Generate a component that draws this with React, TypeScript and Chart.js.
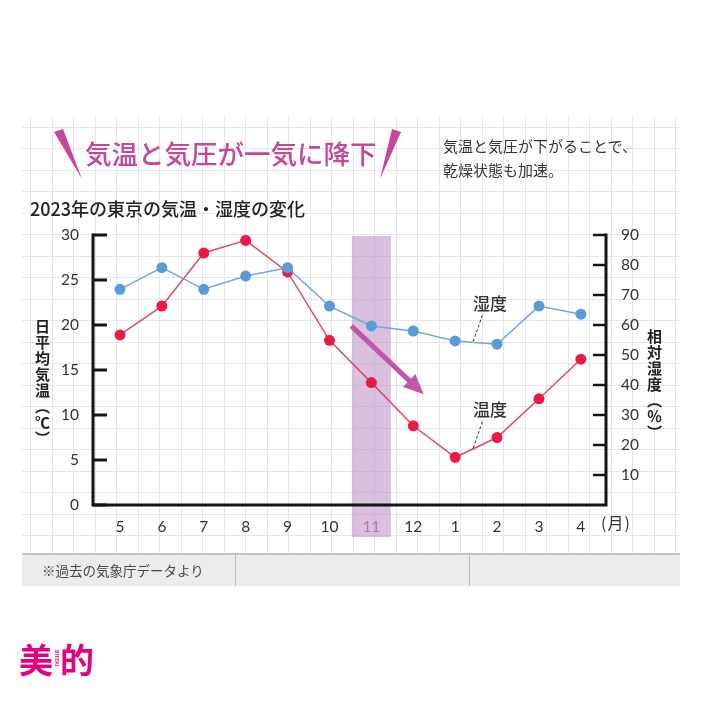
import React, { useEffect, useRef } from "react";
import { Chart, registerables } from "chart.js";

Chart.register(...registerables);

// ---- data ----
const months = ["5", "6", "7", "8", "9", "10", "11", "12", "1", "2", "3", "4"];
const temperature = [18.9, 22.1, 28.0, 29.4, 25.9, 18.3, 13.6, 8.8, 5.3, 7.5, 11.8, 16.2];
const humidity = [71.9, 79.1, 71.9, 76.3, 79.1, 66.3, 59.7, 58.0, 54.7, 53.6, 66.3, 63.6];
const tempTicks = [0, 5, 10, 15, 20, 25, 30];
const humidityTicks = [10, 20, 30, 40, 50, 60, 70, 80, 90];
const highlightIndex = 6;

// annotation anchors (data units: x = month index, y = axis value)
const arrowStart = [5.52, 19.9];
const arrowEnd = [7.25, 12.3];
const humLabel = { text: "湿度", x: 8.83, y: 67.2 };
const humLeader = [8.65, 63.3, 8.42, 54.1];
const tempLabel = { text: "温度", x: 8.83, y: 10.6 };
const tempLeader = [8.65, 9.26, 8.42, 6.19];

const JP = "'Noto Sans CJK JP', 'Noto Sans', sans-serif";
const MAGENTA = "#c4479c";

const paperPlugin = {
  id: "paper",
  beforeDraw(chart: any) {
    const ctx = chart.ctx;
    ctx.save();
    ctx.strokeStyle = "#e5e5ec";
    ctx.lineWidth = 1;
    const left = 22, right = 680, top = 117, bottom = 553;
    for (let x = 30; x <= right; x += 21.5) {
      const px = Math.round(x) + 0.5;
      ctx.beginPath();
      ctx.moveTo(px, top);
      ctx.lineTo(px, bottom);
      ctx.stroke();
    }
    for (let y = 126.7; y <= bottom; y += 21.5) {
      const py = Math.round(y) + 0.5;
      ctx.beginPath();
      ctx.moveTo(left, py);
      ctx.lineTo(right, py);
      ctx.stroke();
    }
    // highlight band for November
    const xs = chart.scales.x;
    const yT = chart.scales.yTemp;
    const x0 = xs.getPixelForValue(highlightIndex - 0.465);
    const x1 = xs.getPixelForValue(highlightIndex + 0.465);
    const y0 = yT.getPixelForValue(29.9);
    const y1 = xs.bottom + 2;
    ctx.fillStyle = "rgba(190,150,200,0.6)";
    ctx.fillRect(x0, y0, x1 - x0, y1 - y0);
    ctx.restore();
  },
};

const axesPlugin = {
  id: "axesDraw",
  beforeDatasetsDraw(chart: any) {
    const ctx = chart.ctx;
    const { left, right, top, bottom } = chart.chartArea;
    const yT = chart.scales.yTemp;
    const yH = chart.scales.yHum;
    ctx.save();
    ctx.strokeStyle = "#151515";
    ctx.lineWidth = 3;
    ctx.lineCap = "square";
    ctx.beginPath();
    ctx.moveTo(left, top);
    ctx.lineTo(left, bottom);
    ctx.lineTo(right, bottom);
    ctx.lineTo(right, top);
    ctx.stroke();
    ctx.lineCap = "butt";
    tempTicks.forEach((v) => {
      const y = yT.getPixelForValue(v);
      ctx.beginPath();
      ctx.moveTo(left, y);
      ctx.lineTo(left + 14, y);
      ctx.stroke();
    });
    ctx.lineWidth = 2.5;
    humidityTicks.forEach((v) => {
      const y = yH.getPixelForValue(v);
      ctx.beginPath();
      ctx.moveTo(right, y);
      ctx.lineTo(right - 13, y);
      ctx.stroke();
    });
    ctx.restore();
  },
};

const annotationPlugin = {
  id: "annotations",
  afterDatasetsDraw(chart: any) {
    const ctx = chart.ctx;
    const xs = chart.scales.x;
    const yT = chart.scales.yTemp;
    const yH = chart.scales.yHum;
    ctx.save();
    // arrow
    const sx = xs.getPixelForValue(arrowStart[0]);
    const sy = yT.getPixelForValue(arrowStart[1]);
    const ex = xs.getPixelForValue(arrowEnd[0]);
    const ey = yT.getPixelForValue(arrowEnd[1]);
    const ang = Math.atan2(ey - sy, ex - sx);
    const headLen = 20;
    const headHalf = 9;
    const bx = ex - headLen * Math.cos(ang);
    const by = ey - headLen * Math.sin(ang);
    ctx.strokeStyle = "#c456a8";
    ctx.fillStyle = "#c456a8";
    ctx.lineWidth = 5;
    ctx.beginPath();
    ctx.moveTo(sx, sy);
    ctx.lineTo(bx + 3 * Math.cos(ang), by + 3 * Math.sin(ang));
    ctx.stroke();
    ctx.beginPath();
    ctx.moveTo(ex, ey);
    ctx.lineTo(bx + headHalf * Math.sin(ang), by - headHalf * Math.cos(ang));
    ctx.lineTo(bx - headHalf * Math.sin(ang), by + headHalf * Math.cos(ang));
    ctx.closePath();
    ctx.fill();

    // leaders
    ctx.strokeStyle = "#333";
    ctx.lineWidth = 1;
    ctx.setLineDash([3, 2]);
    ctx.beginPath();
    ctx.moveTo(xs.getPixelForValue(humLeader[0]), yH.getPixelForValue(humLeader[1]));
    ctx.lineTo(xs.getPixelForValue(humLeader[2]), yH.getPixelForValue(humLeader[3]));
    ctx.stroke();
    ctx.beginPath();
    ctx.moveTo(xs.getPixelForValue(tempLeader[0]), yT.getPixelForValue(tempLeader[1]));
    ctx.lineTo(xs.getPixelForValue(tempLeader[2]), yT.getPixelForValue(tempLeader[3]));
    ctx.stroke();
    ctx.setLineDash([]);

    // labels
    ctx.fillStyle = "#333";
    ctx.font = `500 17px ${JP}`;
    ctx.textAlign = "center";
    ctx.textBaseline = "middle";
    ctx.fillText(humLabel.text, xs.getPixelForValue(humLabel.x), yH.getPixelForValue(humLabel.y));
    ctx.fillText(tempLabel.text, xs.getPixelForValue(tempLabel.x), yT.getPixelForValue(tempLabel.y));
    ctx.restore();
  },
};

const tickFont = { family: "Lato, 'Open Sans', sans-serif", size: 15.5 };

export default function App() {
  const ref = useRef<HTMLCanvasElement | null>(null);

  useEffect(() => {
    if (!ref.current) return;
    const chart = new Chart(ref.current, {
      type: "line",
      data: {
        datasets: [
          {
            label: "湿度",
            data: humidity.map((v, i) => ({ x: i, y: v })),
            yAxisID: "yHum",
            borderColor: "#78a6d4",
            backgroundColor: "#5b9bd5",
            pointBackgroundColor: "#5b9bd5",
            pointBorderWidth: 0,
            pointRadius: 5.5,
            borderWidth: 1.5,
            order: 0,
          },
          {
            label: "気温",
            data: temperature.map((v, i) => ({ x: i, y: v })),
            yAxisID: "yTemp",
            borderColor: "#dc4a66",
            backgroundColor: "#ea1a45",
            pointBackgroundColor: "#ea1a45",
            pointBorderWidth: 0,
            pointRadius: 5.5,
            borderWidth: 1.5,
            order: 1,
          },
        ],
      },
      options: {
        responsive: false,
        animation: false,
        events: [],
        layout: { padding: { left: 0, right: 36, top: 235, bottom: 167 } },
        plugins: { legend: { display: false }, tooltip: { enabled: false } },
        scales: {
          x: {
            type: "linear",
            min: -0.644,
            max: 11.6,
            afterBuildTicks: (s: any) => {
              s.ticks = months.map((_, i) => ({ value: i }));
            },
            afterFit: (s: any) => {
              s.height = 30;
            },
            grid: { display: false },
            border: { display: false },
            ticks: {
              padding: 5,
              autoSkip: false,
              maxRotation: 0,
              font: tickFont,
              color: (c: any) => (c.index === highlightIndex ? "#b672b8" : "#333"),
              callback: (v: any) => months[v],
            },
          },
          yTemp: {
            type: "linear",
            position: "left",
            min: 0,
            max: 30,
            afterBuildTicks: (s: any) => {
              s.ticks = tempTicks.map((v) => ({ value: v }));
            },
            afterFit: (s: any) => {
              s.width = 93;
            },
            grid: { display: false },
            border: { display: false },
            ticks: { padding: 6, font: tickFont, color: "#333" },
          },
          yHum: {
            type: "linear",
            position: "right",
            min: 0,
            max: 90,
            afterBuildTicks: (s: any) => {
              s.ticks = humidityTicks.map((v) => ({ value: v }));
            },
            afterFit: (s: any) => {
              s.width = 60;
            },
            grid: { display: false },
            border: { display: false },
            ticks: { padding: 7, font: tickFont, color: "#333" },
          },
        },
      },
      plugins: [paperPlugin, axesPlugin, annotationPlugin],
    } as any);
    return () => chart.destroy();
  }, []);

  const abs = (s: React.CSSProperties): React.CSSProperties => ({
    position: "absolute",
    margin: 0,
    whiteSpace: "nowrap",
    fontFamily: JP,
    ...s,
  });

  return (
    <div style={{ position: "absolute", left: 0, top: 0, width: 702, height: 702, background: "#fff", overflow: "hidden" }}>
      <canvas ref={ref} width={702} height={702} style={{ position: "absolute", left: 0, top: 0, width: 702, height: 702 }} />
      {/* title slashes */}
      <svg width={702} height={702} style={{ position: "absolute", left: 0, top: 0 }}>
        <polygon points="54,132 63,129 82,179" fill={MAGENTA} />
        <polygon points="392,129 401,132 380,179" fill={MAGENTA} />
      </svg>
      <div style={abs({ left: 85, top: 136, fontSize: 26.5, lineHeight: "34px", fontWeight: 500, color: MAGENTA })}>
        気温と気圧が一気に降下
      </div>
      <div style={abs({ left: 443, top: 134, fontSize: 15, lineHeight: "24px", color: "#333" })}>
        気温と気圧が下がることで、
        <br />
        乾燥状態も加速。
      </div>
      <div style={abs({ left: 30, top: 196, fontSize: 18, lineHeight: "24px", fontWeight: 500, color: "#222" })}>
        2023年の東京の気温・湿度の変化
      </div>
      {/* axis titles */}
      <div
        style={abs({
          left: 35,
          top: 319,
          fontSize: 15,
          lineHeight: "15px",
          fontWeight: 700,
          color: "#222",
          letterSpacing: 1,
          writingMode: "vertical-rl",
          textOrientation: "mixed",
        })}
      >
        日平均気温（℃）
      </div>
      <div
        style={abs({
          left: 647,
          top: 329,
          fontSize: 15,
          lineHeight: "15px",
          fontWeight: 700,
          color: "#222",
          letterSpacing: 1,
          writingMode: "vertical-rl",
          textOrientation: "mixed",
        })}
      >
        相対湿度（％）
      </div>
      <div style={abs({ left: 601, top: 512, fontSize: 16, lineHeight: "20px", color: "#333", letterSpacing: 1 })}>
        (月)
      </div>
      {/* footer strip */}
      <div
        style={{
          position: "absolute",
          left: 22,
          top: 553,
          width: 658,
          height: 31,
          background: "#ebebec",
          borderTop: "2px solid #c4c4c6",
        }}
      >
        <div style={{ position: "absolute", left: 213, top: 0, width: 1, height: 31, background: "#b8b8ba" }} />
        <div style={{ position: "absolute", left: 447, top: 0, width: 1, height: 31, background: "#b8b8ba" }} />
        <div style={abs({ left: 20, top: 6, fontSize: 13.5, lineHeight: "18px", color: "#4a4a4a" })}>
          ※過去の気象庁データより
        </div>
      </div>
      {/* logo */}
      <div style={abs({ left: 19, top: 641, fontSize: 34, lineHeight: "36px", fontWeight: 700, color: "#e5007f" })}>
        美
      </div>
      <div
        style={abs({
          left: 54,
          top: 650,
          fontSize: 5,
          lineHeight: "6px",
          fontWeight: 700,
          color: "#e5007f",
          writingMode: "vertical-rl",
        })}
      >
        BITEKI
      </div>
      <div style={abs({ left: 60, top: 641, fontSize: 34, lineHeight: "36px", fontWeight: 700, color: "#e5007f" })}>
        的
      </div>
    </div>
  );
}
